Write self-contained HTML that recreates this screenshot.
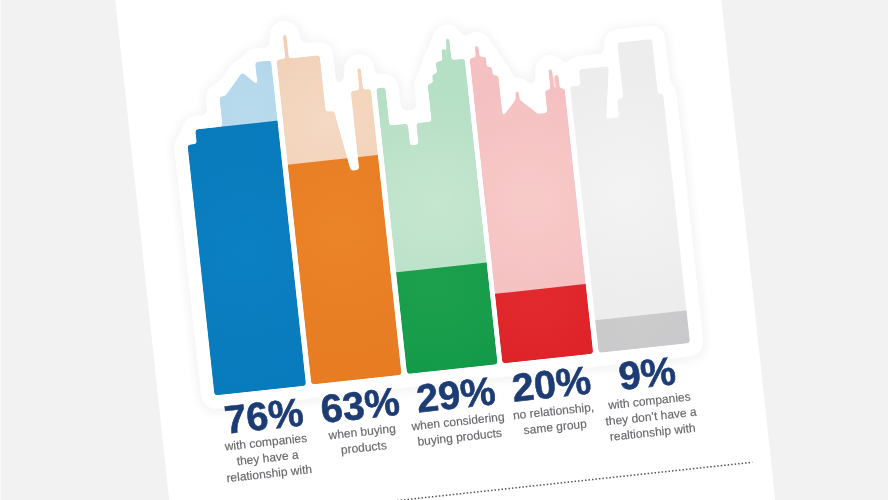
<!DOCTYPE html>
<html><head><meta charset="utf-8">
<style>
html,body{margin:0;padding:0;width:888px;height:500px;overflow:hidden;background:#f2f2f2;}
svg{display:block;}
.pct{font-family:"Liberation Sans",sans-serif;font-weight:bold;font-size:39.5px;fill:#1e3c74;stroke:#1e3c74;stroke-width:0.6px;text-anchor:middle;}
.lab{font-family:"Liberation Sans",sans-serif;font-size:12px;fill:#66676a;stroke:#66676a;stroke-width:0.15px;text-anchor:middle;}
</style></head>
<body>
<svg width="888" height="500" viewBox="0 0 888 500">
<defs>
<filter id="sh" x="-20%" y="-20%" width="140%" height="140%" color-interpolation-filters="sRGB">
<feGaussianBlur stdDeviation="3"/>
<feColorMatrix type="matrix" values="0 0 0 0 0  0 0 0 0 0  0 0 0 0 0  0 0 0 6 -2.5"/>
<feGaussianBlur stdDeviation="5"/>
</filter>
<filter id="sm" x="-20%" y="-20%" width="140%" height="140%" color-interpolation-filters="sRGB">
<feGaussianBlur stdDeviation="3"/>
<feColorMatrix type="matrix" values="1 0 0 0 0  0 1 0 0 0  0 0 1 0 0  0 0 0 6 -2.5"/>
</filter>
<filter id="rnd" x="-5%" y="-5%" width="110%" height="110%" color-interpolation-filters="sRGB">
<feGaussianBlur stdDeviation="1.8"/>
<feColorMatrix type="matrix" values="1 0 0 0 0  0 1 0 0 0  0 0 1 0 0  0 0 0 5 -2"/>
</filter>
<radialGradient id="gb" gradientUnits="userSpaceOnUse" cx="264" cy="90" r="60"><stop offset="0" stop-color="#b9dbed"/><stop offset="1" stop-color="#b3d7eb"/></radialGradient><radialGradient id="go" gradientUnits="userSpaceOnUse" cx="343" cy="110" r="80"><stop offset="0" stop-color="#f5d9c4"/><stop offset="1" stop-color="#f2d1b8"/></radialGradient><radialGradient id="gg" gradientUnits="userSpaceOnUse" cx="440" cy="205" r="110"><stop offset="0" stop-color="#c6e6cf"/><stop offset="1" stop-color="#b6e0c6"/></radialGradient><radialGradient id="gr" gradientUnits="userSpaceOnUse" cx="536" cy="210" r="110"><stop offset="0" stop-color="#f7cac8"/><stop offset="1" stop-color="#f5c0c1"/></radialGradient><radialGradient id="gk" gradientUnits="userSpaceOnUse" cx="632" cy="210" r="120"><stop offset="0" stop-color="#f4f3f4"/><stop offset="1" stop-color="#eeedee"/></radialGradient><radialGradient id="gbd" gradientUnits="userSpaceOnUse" cx="246" cy="230" r="130"><stop offset="0" stop-color="#0b80c2"/><stop offset="1" stop-color="#087bbc"/></radialGradient><radialGradient id="god" gradientUnits="userSpaceOnUse" cx="343" cy="220" r="150"><stop offset="0" stop-color="#eb8329"/><stop offset="1" stop-color="#e77c22"/></radialGradient><radialGradient id="ggd" gradientUnits="userSpaceOnUse" cx="430" cy="280" r="110"><stop offset="0" stop-color="#1da04d"/><stop offset="1" stop-color="#129a49"/></radialGradient><radialGradient id="grd" gradientUnits="userSpaceOnUse" cx="530" cy="305" r="90"><stop offset="0" stop-color="#e22a2e"/><stop offset="1" stop-color="#dd2228"/></radialGradient><radialGradient id="gkd" gradientUnits="userSpaceOnUse" cx="630" cy="340" r="60"><stop offset="0" stop-color="#cdcccd"/><stop offset="1" stop-color="#c9c8ca"/></radialGradient>
<mask id="m1" maskUnits="userSpaceOnUse" x="150" y="-50" width="600" height="500"><g filter="url(#rnd)" fill="#fff"><path d="M200.3,369.9 V118 H209.6 V103.6 H237.1 V73.5 H243 L262.4,51.8 L276.3,66 V43 H292.3 V369.9 Z"/></g></mask>
<mask id="m2" maskUnits="userSpaceOnUse" x="150" y="-50" width="600" height="500"><g filter="url(#rnd)" fill="#fff"><path d="M297.8,369.6 V43 H341.2 V100 H349.5 L359.8,161.3 H368.3 V82 H388.4 V369.6 Z"/><rect x="306.70" y="18.2" width="3.6" height="26.8" rx="1.8"/><rect x="377.10" y="59.2" width="3.6" height="24.799999999999997" rx="1.8"/></g></mask>
<mask id="m3" maskUnits="userSpaceOnUse" x="150" y="-50" width="600" height="500"><g filter="url(#rnd)" fill="#fff"><path d="M394,369.3 V82 H403 V120.5 H421.5 V142.5 H430 V121 H445.5 V83 H451 V74 H456 V62 H485 V369.3 Z"/><rect x="462.80" y="49.2" width="3.6" height="14.799999999999997" rx="1.8"/><rect x="468.20" y="39.2" width="3.6" height="24.799999999999997" rx="1.8"/></g></mask>
<mask id="m4" maskUnits="userSpaceOnUse" x="150" y="-50" width="600" height="500"><g filter="url(#rnd)" fill="#fff"><path d="M490,369.0 V62 H506.2 V73 H511.2 V82 H516.6 V124 L533,106.5 L552,124.8 H561.5 V102 H581.2 V369.0 Z"/><rect x="496.40" y="49.7" width="3.6" height="14.299999999999997" rx="1.8"/><rect x="531.70" y="99.5" width="3.6" height="10.5" rx="1.8"/><rect x="567.00" y="80.7" width="3.6" height="23.299999999999997" rx="1.8"/><rect x="572.80" y="87.2" width="3.6" height="16.799999999999997" rx="1.8"/></g></mask>
<mask id="m5" maskUnits="userSpaceOnUse" x="150" y="-50" width="600" height="500"><g filter="url(#rnd)" fill="#fff"><path d="M586.8,368.8 V101 H597.5 V85 H627.5 L619.3,137 H632.3 V118.5 H638.5 V62.5 H673.3 V118 H678.6 V368.8 Z"/></g></mask>
</defs>
<rect width="888" height="500" fill="#f2f2f2"/><rect width="1" height="500" fill="#f8f8f8"/>
<g transform="rotate(-6.15 444 250)">
<rect x="144" y="-200" width="602.5" height="900" fill="#ffffff"/>
<g transform="rotate(0 440 370)">
<g filter="url(#sh)" opacity="0.045" transform="translate(0 1)">
<path d="M200.3,369.9 V118 H209.6 V103.6 H237.1 V73.5 H243 L262.4,51.8 L276.3,66 V43 H292.3 V369.9 Z M297.8,369.6 V43 H341.2 V100 H349.5 L359.8,161.3 H368.3 V82 H388.4 V369.6 Z M394,369.3 V82 H403 V120.5 H421.5 V142.5 H430 V121 H445.5 V83 H451 V74 H456 V62 H485 V369.3 Z M490,369.0 V62 H506.2 V73 H511.2 V82 H516.6 V124 L533,106.5 L552,124.8 H561.5 V102 H581.2 V369.0 Z M586.8,368.8 V101 H597.5 V85 H627.5 L619.3,137 H632.3 V118.5 H638.5 V62.5 H673.3 V118 H678.6 V368.8 Z" fill="#000" stroke="#000" stroke-width="34" stroke-linejoin="round"/>
<g fill="#000" stroke="#000" stroke-width="34" stroke-linejoin="round"><rect x="306.70" y="18.2" width="3.6" height="26.8" rx="1.8"/><rect x="377.10" y="59.2" width="3.6" height="24.799999999999997" rx="1.8"/><rect x="462.80" y="49.2" width="3.6" height="14.799999999999997" rx="1.8"/><rect x="468.20" y="39.2" width="3.6" height="24.799999999999997" rx="1.8"/><rect x="496.40" y="49.7" width="3.6" height="14.299999999999997" rx="1.8"/><rect x="531.70" y="99.5" width="3.6" height="10.5" rx="1.8"/><rect x="567.00" y="80.7" width="3.6" height="23.299999999999997" rx="1.8"/><rect x="572.80" y="87.2" width="3.6" height="16.799999999999997" rx="1.8"/></g>
</g>
<g filter="url(#sm)">
<path d="M200.3,369.9 V118 H209.6 V103.6 H237.1 V73.5 H243 L262.4,51.8 L276.3,66 V43 H292.3 V369.9 Z M297.8,369.6 V43 H341.2 V100 H349.5 L359.8,161.3 H368.3 V82 H388.4 V369.6 Z M394,369.3 V82 H403 V120.5 H421.5 V142.5 H430 V121 H445.5 V83 H451 V74 H456 V62 H485 V369.3 Z M490,369.0 V62 H506.2 V73 H511.2 V82 H516.6 V124 L533,106.5 L552,124.8 H561.5 V102 H581.2 V369.0 Z M586.8,368.8 V101 H597.5 V85 H627.5 L619.3,137 H632.3 V118.5 H638.5 V62.5 H673.3 V118 H678.6 V368.8 Z" fill="#fff" stroke="#fff" stroke-width="27" stroke-linejoin="round"/>
<g fill="#fff" stroke="#fff" stroke-width="27" stroke-linejoin="round"><rect x="306.70" y="18.2" width="3.6" height="26.8" rx="1.8"/><rect x="377.10" y="59.2" width="3.6" height="24.799999999999997" rx="1.8"/><rect x="462.80" y="49.2" width="3.6" height="14.799999999999997" rx="1.8"/><rect x="468.20" y="39.2" width="3.6" height="24.799999999999997" rx="1.8"/><rect x="496.40" y="49.7" width="3.6" height="14.299999999999997" rx="1.8"/><rect x="531.70" y="99.5" width="3.6" height="10.5" rx="1.8"/><rect x="567.00" y="80.7" width="3.6" height="23.299999999999997" rx="1.8"/><rect x="572.80" y="87.2" width="3.6" height="16.799999999999997" rx="1.8"/></g>
</g>

<g mask="url(#m1)">
<rect x="195" y="30" width="105" height="350" fill="url(#gb)"/>
<rect x="195" y="103.6" width="105" height="280" fill="url(#gbd)"/>
</g>
<g mask="url(#m2)">
<rect x="290" y="10" width="105" height="370" fill="url(#go)"/>
<rect x="290" y="148.5" width="105" height="230" fill="url(#god)"/>
</g>
<g mask="url(#m3)">
<rect x="390" y="30" width="100" height="350" fill="url(#gg)"/>
<rect x="390" y="267" width="100" height="110" fill="url(#ggd)"/>
</g>
<g mask="url(#m4)">
<rect x="485" y="30" width="100" height="350" fill="url(#gr)"/>
<rect x="485" y="299" width="100" height="80" fill="url(#grd)"/>
</g>
<g mask="url(#m5)">
<rect x="580" y="30" width="100" height="350" fill="url(#gk)"/>
<rect x="580" y="336" width="100" height="40" fill="url(#gkd)"/>
</g>

<g opacity="0.995"><text transform="translate(247.1 409.30) scale(1.0 1)" class="pct">76%</text>
<text x="246.3" y="426.0" class="lab">with companies</text>
<text x="246.3" y="441.8" class="lab">they have a</text>
<text x="246.3" y="457.6" class="lab">relationship with</text>
<text transform="translate(343.9 409.00) scale(1.0 1)" class="pct">63%</text>
<text x="343.1" y="426.0" class="lab">when buying</text>
<text x="343.1" y="441.8" class="lab">products</text>
<text transform="translate(440.3 408.70) scale(1.0 1)" class="pct">29%</text>
<text x="439.5" y="426.0" class="lab">when considering</text>
<text x="439.5" y="441.8" class="lab">buying products</text>
<text transform="translate(536.4 408.40) scale(1.0 1)" class="pct">20%</text>
<text x="535.6" y="426.0" class="lab">no relationship,</text>
<text x="535.6" y="441.8" class="lab">same group</text>
<text transform="translate(632.8 408.10) scale(1.0 1)" class="pct">9%</text>
<text x="632.0" y="426.0" class="lab">with companies</text>
<text x="632.0" y="441.8" class="lab">they don’t have a</text>
<text x="632.0" y="457.6" class="lab">realtionship with</text></g>
</g>

<line x1="164" y1="494.1" x2="727.8" y2="494.1" stroke="#555555" stroke-width="1.5" stroke-dasharray="1.5 2"/>
</g>
</svg>
</body></html>
